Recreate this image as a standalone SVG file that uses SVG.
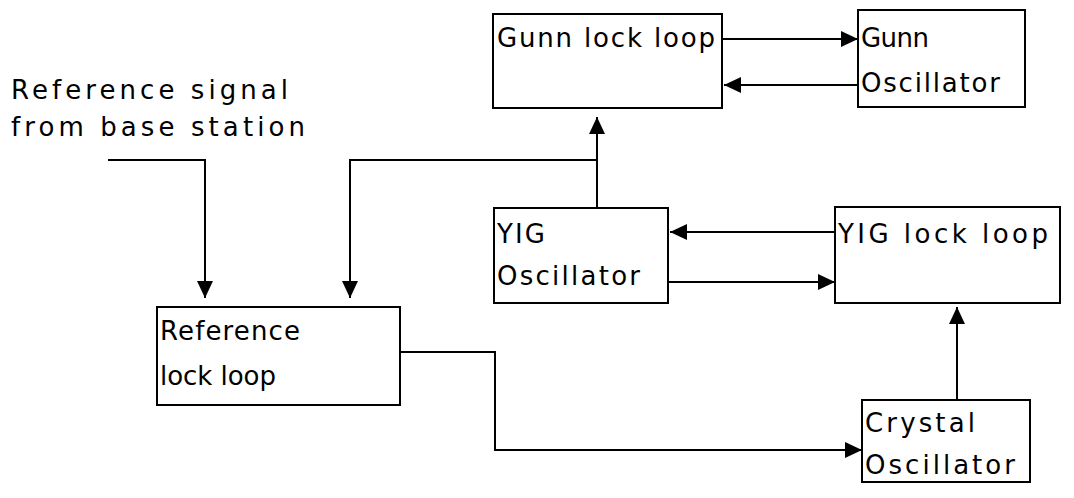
<svg xmlns="http://www.w3.org/2000/svg" width="1074" height="498" viewBox="0 0 1074 498">
<style>
.box{fill:#fff;stroke:#000;stroke-width:2}
.lbl{font-family:"DejaVu Sans","Liberation Sans",sans-serif;font-size:26px;fill:#000}
.wire{fill:none;stroke:#000;stroke-width:2}
</style>
<defs>
<marker id="ah" markerUnits="userSpaceOnUse" viewBox="0 0 17 16" refX="17" refY="8" markerWidth="17" markerHeight="16" orient="auto">
<path d="M0,0 L17,8 L0,16 z" fill="#000"/>
</marker>
</defs>
<rect width="1074" height="498" fill="#fff"/>
<g id="ref-signal-label">
<text class="lbl" x="11" y="99" textLength="277" lengthAdjust="spacing">Reference signal</text>
<text class="lbl" x="11" y="136" textLength="294" lengthAdjust="spacing">from base station</text>
</g>
<g id="gunn-lock-loop">
<rect class="box" x="493" y="14" width="229" height="94"/>
<text class="lbl" x="497" y="47" textLength="218" lengthAdjust="spacing">Gunn lock loop</text>
</g>
<g id="gunn-oscillator">
<rect class="box" x="858" y="10" width="167" height="97"/>
<text class="lbl" x="861" y="47" textLength="68" lengthAdjust="spacing">Gunn</text>
<text class="lbl" x="861" y="92" textLength="139" lengthAdjust="spacing">Oscillator</text>
</g>
<g id="yig-oscillator">
<rect class="box" x="494" y="208" width="174" height="95"/>
<text class="lbl" x="497" y="243" textLength="48" lengthAdjust="spacing">YIG</text>
<text class="lbl" x="497" y="285" textLength="143" lengthAdjust="spacing">Oscillator</text>
</g>
<g id="yig-lock-loop">
<rect class="box" x="835" y="207" width="225" height="96"/>
<text class="lbl" x="838" y="243" textLength="210" lengthAdjust="spacing">YIG lock loop</text>
</g>
<g id="reference-lock-loop">
<rect class="box" x="157" y="307" width="243" height="98"/>
<text class="lbl" x="160" y="340" textLength="140" lengthAdjust="spacing">Reference</text>
<text class="lbl" x="160" y="385" textLength="116" lengthAdjust="spacing">lock loop</text>
</g>
<g id="crystal-oscillator">
<rect class="box" x="862" y="400" width="168" height="82"/>
<text class="lbl" x="865" y="432" textLength="110" lengthAdjust="spacing">Crystal</text>
<text class="lbl" x="865" y="474" textLength="150" lengthAdjust="spacing">Oscillator</text>
</g>
<g id="connectors">
<path class="wire" d="M722,39 H858" marker-end="url(#ah)"/>
<path class="wire" d="M858,85 H724" marker-end="url(#ah)"/>
<path class="wire" d="M597,208 V117" marker-end="url(#ah)"/>
<path class="wire" d="M597,160 H350 V298" marker-end="url(#ah)"/>
<path class="wire" d="M108,160 H205 V298" marker-end="url(#ah)"/>
<path class="wire" d="M835,232 H670" marker-end="url(#ah)"/>
<path class="wire" d="M668,282 H835" marker-end="url(#ah)"/>
<path class="wire" d="M400,352 H495 V450 H862" marker-end="url(#ah)"/>
<path class="wire" d="M957,400 V307" marker-end="url(#ah)"/>
</g>
</svg>
